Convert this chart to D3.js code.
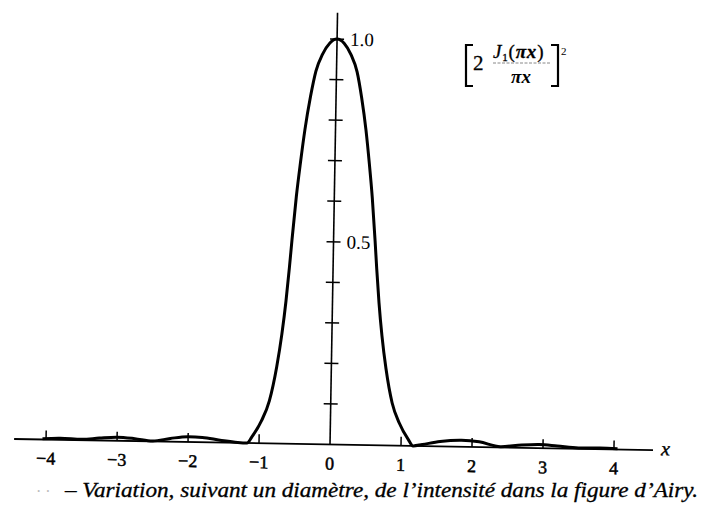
<!DOCTYPE html>
<html lang="fr">
<head>
  <meta charset="utf-8">
  <title>Figure d'Airy</title>
  <script src="https://d3js.org/d3.v7.min.js"></script>
  <style>
    html, body { margin: 0; padding: 0; background: #fff; }
    svg { display: block; }
    svg text { font-family: "Liberation Serif", "DejaVu Serif", "Times New Roman", serif; }
  </style>
</head>
<body>
<div id="chart"></div>
<script>
  // values (x in units, intensity 0..1)
  const xs = [-4.05, -3.8, -3.5, -3.25, -3.0, -2.75, -2.5, -2.25, -2.0, -1.8, -1.55, -1.3, -1.17, -1.10,
    -0.97, -0.865, -0.77, -0.705, -0.655, -0.615, -0.585, -0.535, -0.485, -0.43, -0.36, -0.29, -0.2, -0.1,
    0, 0.1, 0.2, 0.29, 0.36, 0.43, 0.485, 0.535, 0.585, 0.615, 0.655, 0.705, 0.77, 0.865, 0.97,
    1.10, 1.17, 1.3, 1.55, 1.85, 2.1, 2.4, 2.7, 2.95, 3.2, 3.5, 3.8, 4.05]
  const intensity = [0.002, 0.004, 0.002, 0.006, 0.009, 0.006, 0.001, 0.008, 0.013, 0.012, 0.006, 0.001, 0.0, 0.016,
    0.056, 0.105, 0.189, 0.27, 0.352, 0.435, 0.504, 0.61, 0.694, 0.776, 0.857, 0.92, 0.962, 0.99,
    1.0, 0.99, 0.962, 0.92, 0.857, 0.776, 0.694, 0.61, 0.504, 0.435, 0.352, 0.27, 0.189, 0.105, 0.056,
    0.016, 0.0, 0.004, 0.012, 0.016, 0.013, 0.002, 0.007, 0.009, 0.006, 0.002, 0.003, 0.002]

  const xTicks = [-4, -3, -2, -1, 1, 2, 3, 4]
  const xTickLabels = ["\u22124", "\u22123", "\u22122", "\u22121", "0", "1", "2", "3", "4"]
  const xLabelValues = [-4, -3, -2, -1, 0, 1, 2, 3, 4]
  const yTicks = [0.1, 0.2, 0.3, 0.4, 0.5, 0.6, 0.7, 0.8, 0.9, 1.0]
  const yLabelValues = [0.5, 1.0]
  const yTickLabels = ["0.5", "1.0"]
  const xExtent = [-4.45, 4.55]
  const yTop = 1.065

  const W = 707, H = 515
  const svg = d3.select("#chart").append("svg")
    .attr("width", W).attr("height", H)

  const x = d3.scaleLinear().domain([-4, 4]).range([46, 614])
  const y = d3.scaleLinear().domain([0, 1]).range([444.5, 39])

  // the scan is tilted by about a degree
  const g = svg.append("g")
    .attr("transform", `rotate(1, ${x(0)}, ${y(0)})`)

  // x axis
  g.append("line")
    .attr("x1", x(xExtent[0])).attr("x2", x(xExtent[1]))
    .attr("y1", y(0)).attr("y2", y(0))
    .attr("stroke", "#000").attr("stroke-width", 1.8)

  g.selectAll(".xtick")
    .data(xTicks)
    .enter()
    .append("line")
      .attr("class", "xtick")
      .attr("x1", d => x(d)).attr("x2", d => x(d))
      .attr("y1", y(0)).attr("y2", y(0) - 9)
      .attr("stroke", "#000").attr("stroke-width", 1.5)

  g.selectAll(".xlab")
    .data(xLabelValues)
    .enter()
    .append("text")
      .attr("class", "xlab")
      .attr("x", d => x(d))
      .attr("y", y(0) + 25)
      .attr("text-anchor", "middle")
      .style("font-size", "18px")
      .style("stroke", "#000").style("stroke-width", 0.5)
      .text((d, i) => xTickLabels[i])

  g.append("text")
    .attr("x", x(xExtent[1]) + 8)
    .attr("y", y(0) + 5)
    .style("font-style", "italic")
    .style("font-size", "20px")
    .style("stroke", "#000").style("stroke-width", 0.4)
    .text("x")

  // y axis
  g.append("line")
    .attr("x1", x(0)).attr("x2", x(0))
    .attr("y1", y(0)).attr("y2", y(yTop))
    .attr("stroke", "#000").attr("stroke-width", 1.6)

  g.selectAll(".ytick")
    .data(yTicks)
    .enter()
    .append("line")
      .attr("class", "ytick")
      .attr("x1", x(0) - 7).attr("x2", x(0) + 7)
      .attr("y1", d => y(d)).attr("y2", d => y(d))
      .attr("stroke", "#000").attr("stroke-width", 1.5)

  g.selectAll(".ylab")
    .data(yLabelValues)
    .enter()
    .append("text")
      .attr("class", "ylab")
      .attr("x", x(0) + 13)
      .attr("y", d => y(d) + 6.5)
      .style("font-size", "19px")
      .text((d, i) => yTickLabels[i])

  // the curve
  const pts = xs.map((v, i) => [v, intensity[i]])
  const line = d3.line()
    .x(d => x(d[0]))
    .y(d => y(d[1]))
    .curve(d3.curveMonotoneX)

  g.append("path")
    .datum(pts)
    .attr("d", line)
    .attr("fill", "none")
    .attr("stroke", "#000")
    .attr("stroke-width", 3)
    .attr("stroke-linejoin", "round")

  // formula in the top right corner
  const f = svg.append("g")
  f.append("path")
    .attr("d", "M473,45 H466 V86 H473")
    .attr("fill", "none").attr("stroke", "#000").attr("stroke-width", 2.2)
  f.append("path")
    .attr("d", "M551,45 H558 V86 H551")
    .attr("fill", "none").attr("stroke", "#000").attr("stroke-width", 2.2)
  f.append("text")
    .attr("x", 473).attr("y", 70)
    .style("font-size", "21px")
    .style("stroke", "#000").style("stroke-width", 0.3)
    .text("2")
  f.append("text")
    .attr("x", 493).attr("y", 58)
    .style("font-size", "19px")
    .style("letter-spacing", "0.8px")
    .style("stroke", "#000").style("stroke-width", 0.3)
    .html('<tspan font-style="italic">J</tspan><tspan font-size="11px" dy="3">1</tspan><tspan dy="-3">(</tspan><tspan font-style="italic" font-weight="bold">\u03c0x</tspan>)')
  f.append("line")
    .attr("x1", 493).attr("x2", 550)
    .attr("y1", 63).attr("y2", 63)
    .attr("stroke", "#888").attr("stroke-width", 1)
    .attr("stroke-dasharray", "3,1.5")
  f.append("text")
    .attr("x", 521).attr("y", 83)
    .attr("text-anchor", "middle")
    .style("font-size", "19px")
    .style("font-style", "italic").style("font-weight", "bold")
    .text("\u03c0x")
  f.append("text")
    .attr("x", 561).attr("y", 55)
    .style("font-size", "11px")
    .text("2")

  // caption
  svg.append("text")
    .attr("x", 36).attr("y", 497)
    .style("font-size", "16px")
    .attr("fill", "#bbb")
    .text("\u00b7 \u00b7")
  svg.append("text")
    .attr("x", 65).attr("y", 497)
    .attr("textLength", 633)
    .attr("lengthAdjust", "spacingAndGlyphs")
    .style("font-style", "italic")
    .style("font-size", "20px")
    .style("stroke", "#000").style("stroke-width", 0.3)
    .text("\u2013 Variation, suivant un diamètre, de l\u2019intensité dans la figure d\u2019Airy.")
</script>
</body>
</html>
